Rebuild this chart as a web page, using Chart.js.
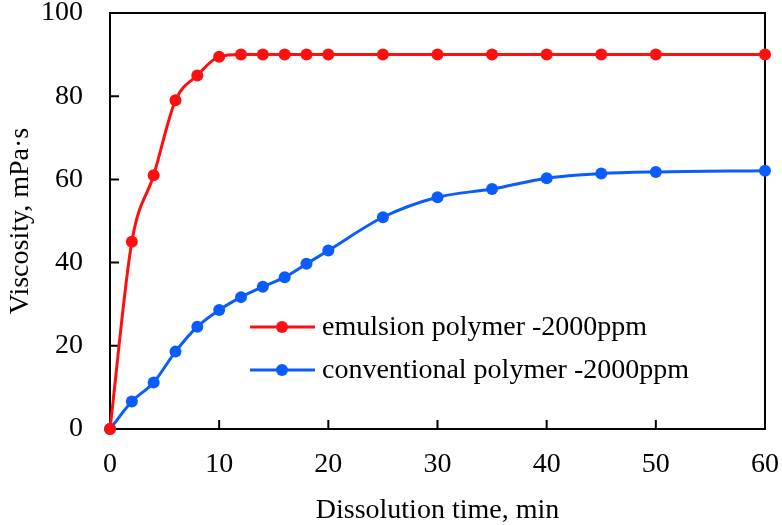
<!DOCTYPE html>
<html>
<head>
<meta charset="utf-8">
<script src="https://cdn.jsdelivr.net/npm/chart.js@4.4.1/dist/chart.umd.min.js"></script>
<style>
  html, body { margin: 0; padding: 0; background: #fff; }
  #wrap { width: 782px; height: 525px; }
</style>
</head>
<body>
<div id="wrap"><canvas id="viscosity-chart" width="782" height="525"></canvas></div>
<script>
'use strict';

// ******** DATA **************
let timeMinutes = [0, 2, 4, 6, 8, 10, 12, 14, 16, 18, 20, 25, 30, 35, 40, 45, 50, 60];
let emulsionViscosity = [0, 45, 61, 79, 85, 89.5, 90, 90, 90, 90, 90, 90, 90, 90, 90, 90, 90, 90];
let conventionalViscosity = [0, 6.6, 11.2, 18.6, 24.6, 28.6, 31.7, 34.2, 36.5, 39.7, 42.9, 50.9, 55.7, 57.7, 60.3, 61.4, 61.8, 62.1];
let seriesNames = ['emulsion polymer -2000ppm', 'conventional polymer -2000ppm'];
let seriesColors = ['#ff1010', '#0a5cff'];
let xTicks = [0, 10, 20, 30, 40, 50, 60];
let yTicks = [0, 20, 40, 60, 80, 100];

let serifFont = "'Liberation Serif', 'Times New Roman', serif";
let textSize = 28;

function toPoints(values){
  let points = [];
  for (let i = 0; i < timeMinutes.length; i++){
    points.push({x: timeMinutes[i], y: values[i]});
  }
  return points;
}

function makeDataset(label, values, color){
  return {
    label: label,
    data: toPoints(values),
    borderColor: color,
    backgroundColor: color,
    pointBackgroundColor: color,
    pointBorderWidth: 0,
    pointRadius: 6,
    borderWidth: 3,
    cubicInterpolationMode: 'monotone',
    clip: false
  };
}

// *********** PLUGINS ***************

// box around the plot and inward tick marks
let frameAndTicks = {
  id: 'frameAndTicks',
  beforeDatasetsDraw(chart){
    let ctx = chart.ctx;
    let area = chart.chartArea;
    let xScale = chart.scales.x;
    let yScale = chart.scales.y;
    ctx.save();
    ctx.strokeStyle = '#000';
    ctx.lineWidth = 2;
    ctx.strokeRect(area.left, area.top, area.right - area.left, area.bottom - area.top);
    ctx.beginPath();
    xTicks.forEach(v => {
      let px = xScale.getPixelForValue(v);
      ctx.moveTo(px, area.bottom);
      ctx.lineTo(px, area.bottom - 9);
    });
    yTicks.forEach(v => {
      let py = yScale.getPixelForValue(v);
      ctx.moveTo(area.left, py);
      ctx.lineTo(area.left + 9, py);
    });
    ctx.stroke();
    ctx.restore();
  }
};

// legend drawn inside the plot
let insideLegend = {
  id: 'insideLegend',
  afterDraw(chart){
    let ctx = chart.ctx;
    let rows = [327, 370];
    ctx.save();
    ctx.font = textSize + 'px ' + serifFont;
    ctx.textBaseline = 'middle';
    chart.data.datasets.forEach((ds, i) => {
      let y = rows[i];
      ctx.strokeStyle = ds.borderColor;
      ctx.lineWidth = 3;
      ctx.beginPath();
      ctx.moveTo(250, y);
      ctx.lineTo(315, y);
      ctx.stroke();
      ctx.fillStyle = ds.borderColor;
      ctx.beginPath();
      ctx.arc(282, y, 6, 0, Math.PI * 2);
      ctx.fill();
      ctx.fillStyle = '#000';
      ctx.fillText(ds.label, 322, y + 1);
    });
    ctx.restore();
  }
};

// *********** CHART ***************
let chartCanvas = document.getElementById('viscosity-chart');

let chartSettings = {
  type: 'line',
  data: {
    datasets: [
      makeDataset(seriesNames[0], emulsionViscosity, seriesColors[0]),
      makeDataset(seriesNames[1], conventionalViscosity, seriesColors[1])
    ]
  },
  options: {
    responsive: false,
    animation: false,
    layout: { padding: { top: 13, right: 17, left: 0, bottom: 0 } },
    plugins: {
      legend: { display: false },
      tooltip: { enabled: false }
    },
    scales: {
      x: {
        type: 'linear',
        min: 0,
        max: 60,
        afterFit(scale){
          scale.height = 96;
          // labels may hang past the plot edge, the page margin takes care of it
          scale.paddingLeft = 0;
          scale.paddingRight = 0;
        },
        grid: { display: false, drawTicks: false },
        border: { display: false },
        ticks: {
          stepSize: 10,
          padding: 19,
          color: '#000',
          font: { family: serifFont, size: textSize }
        },
        title: {
          display: true,
          text: 'Dissolution time, min',
          color: '#000',
          font: { family: serifFont, size: textSize, lineHeight: 1 },
          padding: { top: 0, bottom: 0 }
        }
      },
      y: {
        min: 0,
        max: 100,
        afterFit(scale){
          scale.width = 110;
          scale.paddingTop = 0;
          scale.paddingBottom = 0;
        },
        grid: { display: false, drawTicks: false },
        border: { display: false },
        ticks: {
          stepSize: 20,
          padding: 27,
          color: '#000',
          font: { family: serifFont, size: textSize }
        },
        title: {
          display: true,
          text: 'Viscosity, mPa·s',
          color: '#000',
          font: { family: serifFont, size: textSize, lineHeight: 1 },
          padding: { top: 7, bottom: 0 }
        }
      }
    }
  },
  plugins: [frameAndTicks, insideLegend]
};

new Chart(chartCanvas, chartSettings);
</script>
</body>
</html>
